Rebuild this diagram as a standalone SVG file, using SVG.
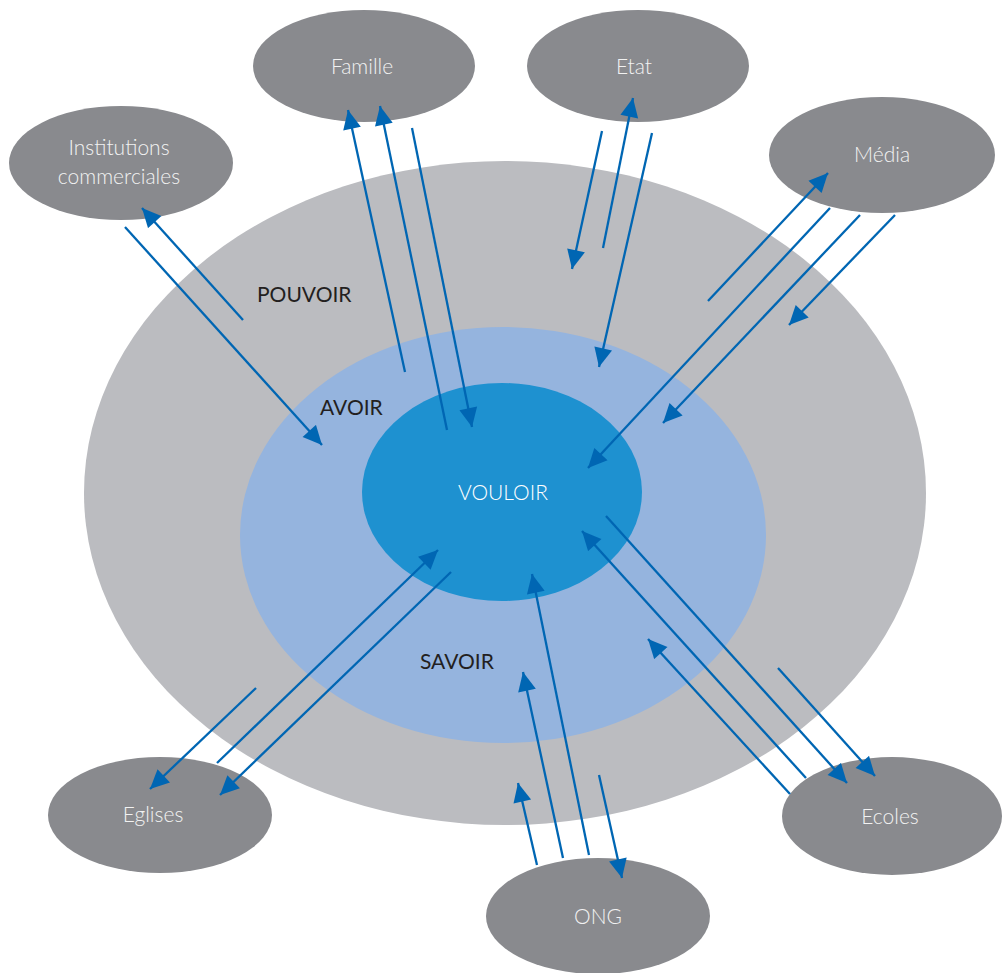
<svg xmlns="http://www.w3.org/2000/svg" width="1002" height="973" viewBox="0 0 1002 973">
<style>
.node{fill:#898a8e}
.nt{font-family:Lato,"Open Sans","Liberation Sans",sans-serif;font-size:21px;fill:#f2f2f2;text-anchor:middle;font-weight:300}
.lbl{font-family:Lato,"Open Sans","Liberation Sans",sans-serif;font-size:21px;fill:#231f20;font-weight:400}
.ar{stroke:#0066b3;stroke-width:2.3;fill:none;marker-end:url(#ah)}
</style>
<defs>
<marker id="ah" viewBox="0 0 20 20" refX="20" refY="10" markerWidth="20" markerHeight="19" markerUnits="userSpaceOnUse" orient="auto">
<path d="M0,0.5 L20,10 L0,19.5 z" fill="#0066b3"/>
</marker>
</defs>
<rect width="1002" height="973" fill="#ffffff"/>
<g id="rings">
<ellipse id="pouvoir" cx="505" cy="493" rx="421" ry="332" fill="#bbbcc0"/>
<ellipse id="avoir" cx="503" cy="535" rx="263" ry="208" fill="#95b4de"/>
<ellipse id="vouloir" cx="502" cy="492" rx="140" ry="109" fill="#1e91d0"/>
<text class="lbl" x="257" y="302">POUVOIR</text>
<text class="lbl" x="320" y="415">AVOIR</text>
<text class="lbl" x="420" y="669">SAVOIR</text>
<text class="nt" x="503" y="500" style="fill:#ffffff">VOULOIR</text>
</g>
<g id="famille"><ellipse class="node" cx="364" cy="66" rx="111" ry="56"/><text class="nt" x="362" y="74">Famille</text></g>
<g id="etat"><ellipse class="node" cx="638" cy="66" rx="111" ry="56"/><text class="nt" x="634" y="74">Etat</text></g>
<g id="institutions"><ellipse class="node" cx="121" cy="163" rx="112" ry="57"/><text class="nt" x="119" y="155">Institutions</text><text class="nt" x="119" y="184">commerciales</text></g>
<g id="media"><ellipse class="node" cx="882" cy="155" rx="113" ry="58"/><text class="nt" x="882" y="162">Média</text></g>
<g id="eglises"><ellipse class="node" cx="160" cy="815" rx="112" ry="58"/><text class="nt" x="153" y="822">Eglises</text></g>
<g id="ecoles"><ellipse class="node" cx="892" cy="816" rx="110" ry="59"/><text class="nt" x="890" y="824">Ecoles</text></g>
<g id="ong"><ellipse class="node" cx="598" cy="916" rx="112" ry="58"/><text class="nt" x="598" y="924">ONG</text></g>
<g id="connectors">
<line class="ar" x1="405" y1="372" x2="348" y2="110"/>
<line class="ar" x1="447" y1="430" x2="380" y2="106"/>
<line class="ar" x1="412" y1="128" x2="472" y2="427"/>
<line class="ar" x1="602" y1="131" x2="572" y2="269"/>
<line class="ar" x1="603" y1="248" x2="633" y2="98"/>
<line class="ar" x1="652" y1="133" x2="599" y2="367"/>
<line class="ar" x1="243" y1="320" x2="142" y2="208"/>
<line class="ar" x1="125" y1="227" x2="322" y2="445"/>
<line class="ar" x1="708" y1="301" x2="828" y2="173"/>
<line class="ar" x1="830" y1="208" x2="588" y2="468"/>
<line class="ar" x1="860" y1="215" x2="663" y2="423"/>
<line class="ar" x1="895" y1="215" x2="789" y2="325"/>
<line class="ar" x1="256" y1="688" x2="150" y2="789"/>
<line class="ar" x1="217" y1="763" x2="438" y2="550"/>
<line class="ar" x1="451" y1="572" x2="220" y2="795"/>
<line class="ar" x1="537" y1="865" x2="518" y2="783"/>
<line class="ar" x1="563" y1="858" x2="523" y2="672"/>
<line class="ar" x1="589" y1="855" x2="532" y2="574"/>
<line class="ar" x1="599" y1="775" x2="622" y2="878"/>
<line class="ar" x1="606" y1="516" x2="847" y2="783"/>
<line class="ar" x1="806" y1="778" x2="582" y2="531"/>
<line class="ar" x1="790" y1="794" x2="648" y2="639"/>
<line class="ar" x1="778" y1="668" x2="875" y2="776"/>
</g>
</svg>
